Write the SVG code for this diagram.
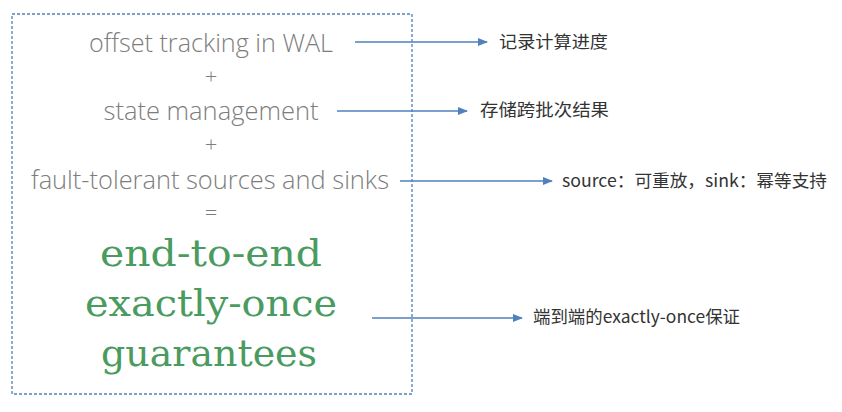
<svg xmlns="http://www.w3.org/2000/svg" width="842" height="412" viewBox="0 0 842 412">
<style>
.gray{font-family:"Open Sans","Noto Sans",sans-serif;font-size:26px;font-weight:300;fill:#7d7d7d;text-anchor:middle}
.op{font-family:"Open Sans","Noto Sans",sans-serif;font-size:22px;font-weight:300;fill:#7d7d7d;text-anchor:middle}
.green{font-family:"DejaVu Serif","Liberation Serif",serif;font-size:38px;fill:#4a9b60;text-anchor:middle}
.lbl{font-family:"Noto Sans CJK SC","Noto Sans",sans-serif;font-size:17px;font-weight:400;fill:#333}
.conn{stroke:#4f81bd;stroke-width:1.3;fill:none;marker-end:url(#ah)}
</style>
<defs>
<marker id="ah" markerWidth="10" markerHeight="8" refX="9" refY="4" orient="auto" markerUnits="userSpaceOnUse">
<path d="M0,0 L10,4 L0,8 Z" fill="#4f81bd"/>
</marker>
</defs>
<rect width="842" height="412" fill="#fff"/>
<g id="box">
<rect x="12" y="14" width="400" height="380" fill="none" stroke="#4f81bd" stroke-width="1.3" stroke-dasharray="3,2"/>
<text class="gray" x="211" y="52" textLength="244" lengthAdjust="spacingAndGlyphs">offset tracking in WAL</text>
<text class="op" x="211" y="84">+</text>
<text class="gray" x="211" y="120" textLength="215" lengthAdjust="spacingAndGlyphs">state management</text>
<text class="op" x="211" y="152">+</text>
<text class="gray" x="210" y="189" textLength="358" lengthAdjust="spacingAndGlyphs">fault-tolerant sources and sinks</text>
<text class="op" x="211" y="220">=</text>
<text class="green" x="211" y="266" textLength="222" lengthAdjust="spacingAndGlyphs">end-to-end</text>
<text class="green" x="211" y="316" textLength="252" lengthAdjust="spacingAndGlyphs">exactly-once</text>
<text class="green" x="209" y="366" textLength="216" lengthAdjust="spacingAndGlyphs">guarantees</text>
</g>
<g id="connectors">
<line class="conn" x1="355" y1="42" x2="487" y2="42"/>
<line class="conn" x1="337" y1="111" x2="467" y2="111"/>
<line class="conn" x1="400" y1="181" x2="552" y2="181"/>
<line class="conn" x1="372" y1="318" x2="522" y2="318"/>
</g>
<g id="label1"><text class="lbl" x="499" y="48" textLength="109" lengthAdjust="spacingAndGlyphs">记录计算进度</text></g>
<g id="label2"><text class="lbl" x="480" y="116" textLength="129" lengthAdjust="spacingAndGlyphs">存储跨批次结果</text></g>
<g id="label3"><text class="lbl" x="562" y="187" textLength="265" lengthAdjust="spacingAndGlyphs">source：可重放，sink：幂等支持</text></g>
<g id="label4"><text class="lbl" x="533" y="323" textLength="207" lengthAdjust="spacingAndGlyphs">端到端的exactly-once保证</text></g>
</svg>
